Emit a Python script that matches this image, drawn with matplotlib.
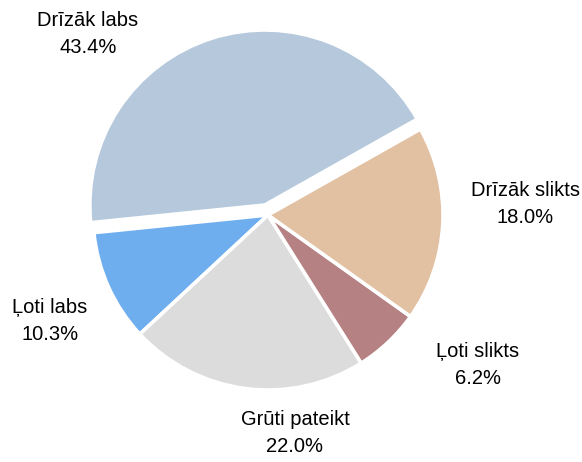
import matplotlib
matplotlib.use("Agg")
import matplotlib.pyplot as plt

plt.rcParams['font.family'] = ['Liberation Sans', 'DejaVu Sans']

# data, counter-clockwise from the upper right
labels = ['Drīzāk labs', 'Ļoti labs', 'Grūti pateikt', 'Ļoti slikts', 'Drīzāk slikts']
shares = [43.4, 10.3, 22.0, 6.2, 18.0]
colors = ['#b5c8dc', '#6faeee', '#dcdcdc', '#b58182', '#e2c0a2']
explode = [0.06, 0, 0, 0, 0]
# label positions (in pie radius units)
label_x = [-1.029, -1.246, 0.154, 1.200, 1.469]
label_y = [1.034, -0.606, -1.246, -0.857, 0.063]

px_per_unit = 175.0
cx, cy = 268, 215
W, H = 582, 462

fig = plt.figure(figsize=(W / 100, H / 100), dpi=100)
ax = fig.add_axes([0, 0, 1, 1])
ax.pie(shares, colors=colors, explode=explode, startangle=29.4,
       counterclock=True, radius=1.0,
       wedgeprops=dict(edgecolor='white', linewidth=2.6))
for lab, val, x, y in zip(labels, shares, label_x, label_y):
    ax.text(x, y, f"{lab}\n{val:.1f}%", ha='center', va='center',
            fontsize=14.5, linespacing=1.55, color='black')

ax.set_xlim(-cx / px_per_unit, (W - cx) / px_per_unit)
ax.set_ylim(-(H - cy) / px_per_unit, cy / px_per_unit)
ax.set_aspect('auto')
ax.axis('off')
fig.savefig('out.png', dpi=100)
